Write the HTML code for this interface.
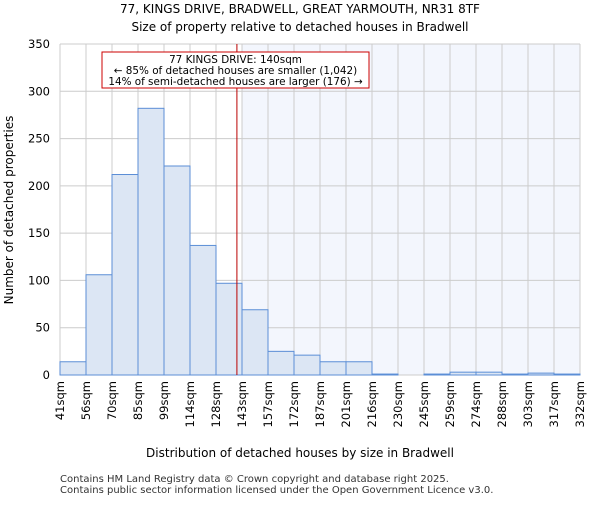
<!DOCTYPE html>
<html><head><meta charset="utf-8"><style>body{margin:0;background:#fff}svg{font-family:"DejaVu Sans","Liberation Sans",sans-serif}</style></head>
<body>
<svg id="c" width="600" height="500">
<text x="300" y="13" text-anchor="middle" font-size="12">77, KINGS DRIVE, BRADWELL, GREAT YARMOUTH, NR31 8TF</text>
<text x="300" y="31" text-anchor="middle" font-size="12">Size of property relative to detached houses in Bradwell</text>
<g id="plot"></g>
<text x="300" y="457" text-anchor="middle" font-size="12">Distribution of detached houses by size in Bradwell</text>
<text transform="translate(13,210) rotate(-90)" text-anchor="middle" font-size="12">Number of detached properties</text>
<text x="60" y="482" font-size="10" fill="#333">Contains HM Land Registry data © Crown copyright and database right 2025.</text>
<text x="60" y="493" font-size="10" fill="#333">Contains public sector information licensed under the Open Government Licence v3.0.</text>
</svg>
<script>
const categories=["41sqm","56sqm","70sqm","85sqm","99sqm","114sqm","128sqm","143sqm","157sqm","172sqm","187sqm","201sqm","216sqm","230sqm","245sqm","259sqm","274sqm","288sqm","303sqm","317sqm","332sqm"];
const counts=[14,106,212,282,221,137,97,69,25,21,14,14,1,0,1,3,3,1,2,1];
const yTicks=[0,50,100,150,200,250,300,350];
const markerValue=140;
const binStart=41,binStep=14.55;
const X0=60,X1=580,Y0=375,Y1=44,yMax=350;
const ns="http://www.w3.org/2000/svg";
const g=document.getElementById('plot');
const bw=(X1-X0)/counts.length;
const xi=i=>X0+i*bw;
const y=v=>Y0-(v/yMax)*(Y0-Y1);
const xv=v=>X0+(v-binStart)/binStep*bw;
function mk(t,a){const e=document.createElementNS(ns,t);for(const k in a)e.setAttribute(k,a[k]);g.appendChild(e);return e;}
const mx=xv(markerValue);
const shx=Math.ceil((mx-X0)/bw)*bw+X0;
const sh=mk('rect',{x:shx,y:Y1,width:X1-shx,height:Y0-Y1,fill:'#f3f6fd'});


for(let i=0;i<categories.length;i++){const l=mk('line',{x1:xi(i),x2:xi(i),y1:Y1,y2:Y0,stroke:'#ccc'});


const t=mk('text',{transform:`translate(${xi(i)+4},${Y0+6}) rotate(-90)`,'text-anchor':'end','font-size':11.5});t.textContent=categories[i];

}
yTicks.forEach(v=>{const l=mk('line',{x1:X0,x2:X1,y1:y(v),y2:y(v),stroke:'#ccc'});


const t=mk('text',{x:X0-10,y:y(v)+4,'text-anchor':'end','font-size':11.5});t.textContent=v;

});
counts.forEach((c,i)=>{const r=mk('rect',{x:xi(i),y:y(c),width:bw,height:Y0-y(c),fill:'#dce6f4',stroke:'#5b8ed6','stroke-width':1});

});
const ml=mk('line',{x1:mx,x2:mx,y1:Y1,y2:Y0,stroke:'#b00','stroke-width':1});


const bx=mk('rect',{x:102,y:52,width:267,height:36,fill:'#fff',stroke:'#c00'});


["77 KINGS DRIVE: 140sqm","← 85% of detached houses are smaller (1,042)","14% of semi-detached houses are larger (176) →"].forEach((s,i)=>{const t=mk('text',{x:235.5,y:63+i*11,'text-anchor':'middle','font-size':10.4});t.textContent=s;

});
</script>
</body></html>
